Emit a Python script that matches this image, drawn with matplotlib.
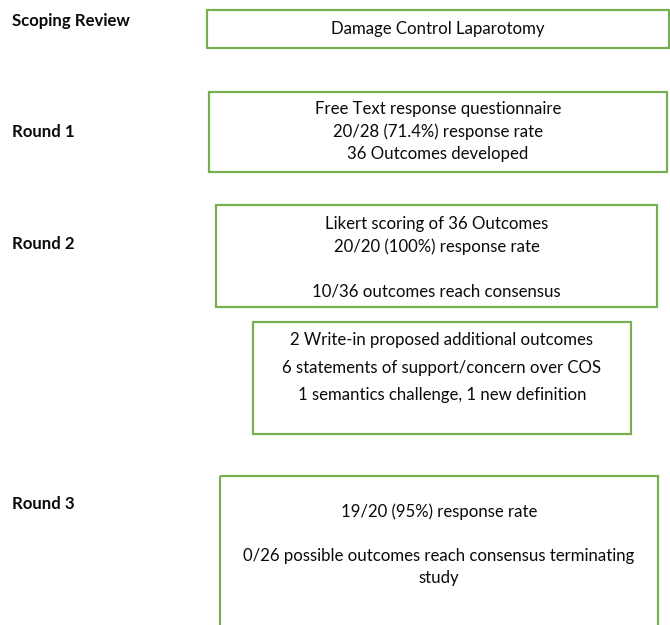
import matplotlib
matplotlib.use("Agg")
import matplotlib.pyplot as plt
from matplotlib.patches import Rectangle

# stage labels on the left
stage_labels = ["Scoping Review", "Round 1", "Round 2", "Round 3"]

# text content of each box, one list per box (empty string = blank line)
box_texts = [
    ["Damage Control Laparotomy"],
    ["Free Text response questionnaire",
     "20/28 (71.4%) response rate",
     "36 Outcomes developed"],
    ["Likert scoring of 36 Outcomes",
     "20/20 (100%) response rate",
     "",
     "10/36 outcomes reach consensus"],
    ["2 Write-in proposed additional outcomes",
     "",
     "6 statements of support/concern over COS",
     "",
     "1 semantics challenge, 1 new definition"],
    ["19/20 (95%) response rate",
     "",
     "0/26 possible outcomes reach consensus terminating",
     "study"],
]

# layout (pixels, y from top)
label_y = [21, 132, 244, 504]
box_rects = [  # left, top, right, bottom
    (207, 10, 669, 48),
    (209, 92, 667, 172),
    (216, 205, 657, 307),
    (253, 322, 631, 434),
    (220, 476, 658, 640),
]
first_line_y = [29, 109, 224, 340, 512]
line_step = [22, 22.5, 22.5, 13.8, 22]

GREEN = "#77b050"
FONT = "Lato"
SIZE = 12.1

fig = plt.figure(figsize=(6.7, 6.25), dpi=100)
ax = fig.add_axes([0, 0, 1, 1])
ax.set_xlim(0, 670)
ax.set_ylim(625, 0)
ax.axis("off")

for lab, y in zip(stage_labels, label_y):
    ax.text(12, y, lab, fontsize=SIZE, fontweight="bold", family=FONT,
            ha="left", va="center", color="#0a0a0a")

for (l, t, r, b), lines, y0, step in zip(box_rects, box_texts, first_line_y, line_step):
    ax.add_patch(Rectangle((l, t), r - l, b - t, fill=False,
                           edgecolor=GREEN, linewidth=1.6))
    cx = (l + r) / 2
    for i, line in enumerate(lines):
        if line:
            ax.text(cx, y0 + i * step, line, fontsize=SIZE, family=FONT,
                    ha="center", va="center", color="#0a0a0a")

fig.savefig("out.png", dpi=100)
